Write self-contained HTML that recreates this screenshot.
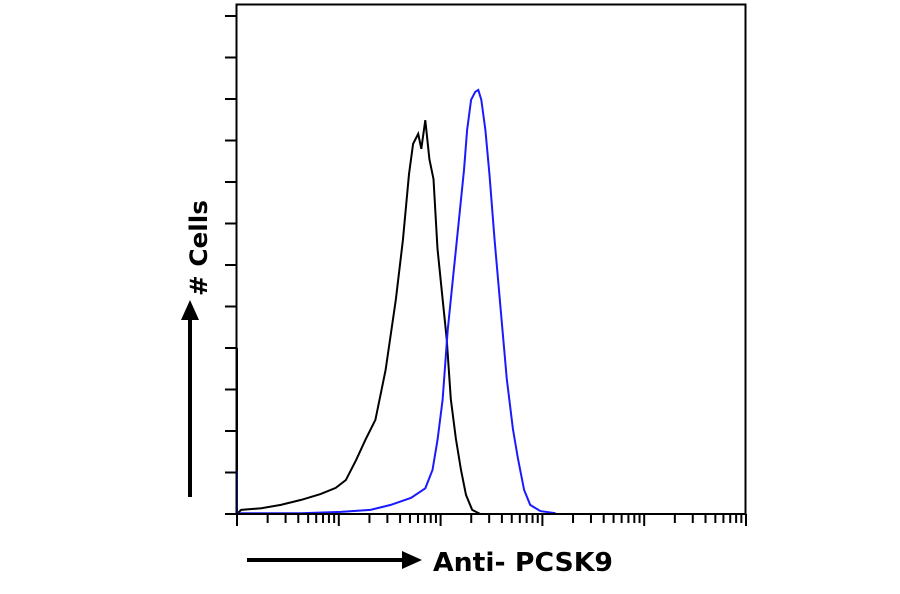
<!DOCTYPE html>
<html><head><meta charset="utf-8"><style>
body{margin:0;background:#fff;}
svg{display:block;}
text{font-family:"DejaVu Sans","Liberation Sans",sans-serif;font-weight:bold;}
</style></head><body>
<svg id="chart" width="900" height="594" viewBox="0 0 900 594" xmlns="http://www.w3.org/2000/svg">
<g id="ticks"></g>
<g id="series"></g>
<rect x="236.5" y="4.5" width="509" height="509.5" fill="none" stroke="#000" stroke-width="2"/>
<g>
<line x1="190" y1="497" x2="190" y2="318" stroke="#000" stroke-width="4"/>
<polygon points="181,320 199,320 190,300" fill="#000"/>
<text x="0" y="0" font-size="24" transform="translate(207,296) rotate(-90)" textLength="96" lengthAdjust="spacingAndGlyphs">#&#160;Cells</text>
</g>
<g>
<line x1="247" y1="560" x2="405" y2="560" stroke="#000" stroke-width="4"/>
<polygon points="402,551 402,569 422,560" fill="#000"/>
<text x="433" y="571" font-size="26" textLength="180" lengthAdjust="spacingAndGlyphs">Anti- PCSK9</text>
</g>
</svg>
<script>
const blackLog=[0,0,0.04,0.24,0.43,0.63,0.82,0.97,1.07,1.17,1.26,1.36,1.46,1.56,1.63,1.69,1.73,1.78,1.81,1.85,1.89,1.93,1.97,2.02,2.06,2.10,2.15,2.20,2.25,2.31,2.39];
const blackCount=[40,0,1.0,1.4,2.2,3.4,4.8,6.3,8.2,13.0,17.8,22.7,34.7,51.6,66.0,81.9,89.2,91.6,88.0,94.9,85.5,80.7,63.9,51.8,42.2,27.7,18.1,10.6,4.6,1.0,0];
const blueLog=[0,0,0.04,0.63,1.02,1.31,1.51,1.71,1.85,1.92,1.97,2.02,2.07,2.12,2.18,2.23,2.26,2.30,2.34,2.37,2.40,2.44,2.48,2.53,2.59,2.65,2.71,2.76,2.82,2.88,2.98,3.13];
const blueCount=[10.6,0,0.2,0.2,0.5,1,2.2,3.9,6.2,10.6,17.8,27.5,44.3,56.4,70.8,82.9,92.5,99.8,101.7,102.2,99.8,92.5,81.7,66,49.2,32.5,20.5,13.3,5.8,2.2,0.7,0.2];
const decades=[0,1,2,3,4,5];
const yTickCounts=[0,10,20,30,40,50,60,70,80,90,100,110,120];
const X0=237,DEC=101.8,Y0=514,YU=4.15;
const xs=v=>X0+v*DEC, ys=c=>Y0-c*YU;
const NS="http://www.w3.org/2000/svg";
const tg=document.getElementById('ticks');
function ln(x1,y1,x2,y2,c,w,name){const l=document.createElementNS(NS,'line');
l.setAttribute('x1',x1);l.setAttribute('y1',y1);l.setAttribute('x2',x2);l.setAttribute('y2',y2);
l.setAttribute('stroke',c);l.setAttribute('stroke-width',w);


tg.appendChild(l);}
yTickCounts.forEach(c=>ln(225,ys(c),237,ys(c),'#000',2,'y-tick'));
decades.forEach((d,i)=>{ln(xs(d),514,xs(d),526,'#000',2,'x-major-tick');
if(i<decades.length-1){for(let k=2;k<=9;k++){ln(xs(d+Math.log10(k)),514,xs(d+Math.log10(k)),523,'#000',2,'x-minor-tick');}}});
const sg=document.getElementById('series');
function path(lg,ct,col,name){const p=document.createElementNS(NS,'polyline');
p.setAttribute('points',lg.map((v,i)=>xs(v).toFixed(1)+','+ys(ct[i]).toFixed(1)).join(' '));
p.setAttribute('fill','none');p.setAttribute('stroke',col);p.setAttribute('stroke-width','2');


sg.appendChild(p);}
path(blackLog,blackCount,'#000','isotype-control-histogram');
path(blueLog,blueCount,'#1a1aff','anti-pcsk9-histogram');
</script>
</body></html>
